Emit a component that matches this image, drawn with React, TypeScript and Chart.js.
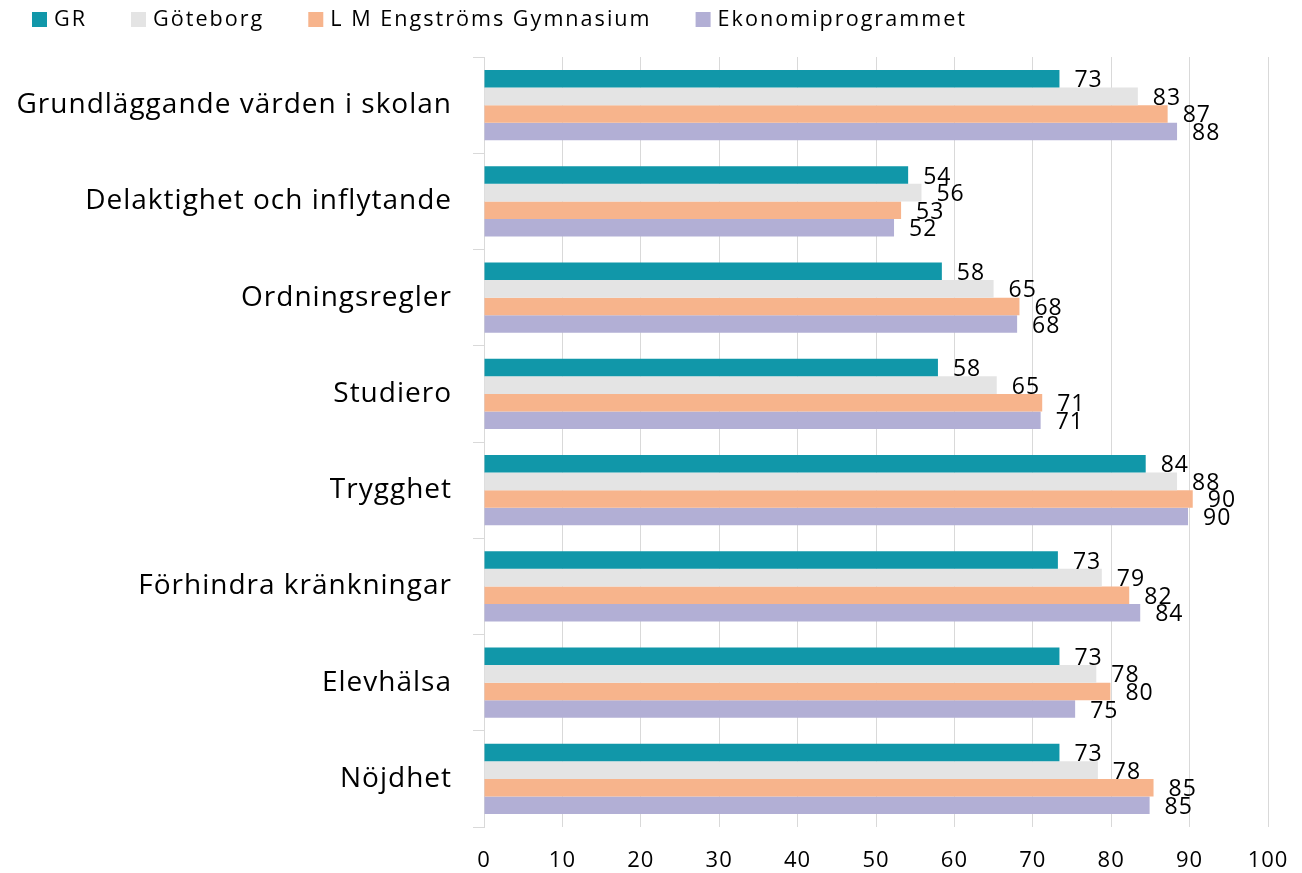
import React, { useEffect, useRef } from "react";
import { Chart, registerables } from "chart.js";

Chart.register(...registerables);

const categories = [
  "Grundläggande värden i skolan",
  "Delaktighet och inflytande",
  "Ordningsregler",
  "Studiero",
  "Trygghet",
  "Förhindra kränkningar",
  "Elevhälsa",
  "Nöjdhet",
];

const seriesNames = ["GR", "Göteborg", "L M Engströms Gymnasium", "Ekonomiprogrammet"];
const seriesColors = ["#1197a9", "#e4e4e4", "#f7b48c", "#b2afd5"];

const grValues = [73.4, 54.1, 58.4, 57.9, 84.4, 73.2, 73.4, 73.4];
const goteborgValues = [83.4, 55.8, 65.0, 65.4, 88.4, 78.8, 78.1, 78.3];
const lmValues = [87.2, 53.2, 68.3, 71.2, 90.4, 82.3, 79.9, 85.4];
const ekonomiValues = [88.4, 52.3, 68.0, 71.0, 89.8, 83.7, 75.4, 84.9];

const xMin = 0;
const xMax = 100;
const xStep = 10;

const FONT = '"Open Sans", "DejaVu Sans", sans-serif';

const spacingPlugin = {
  id: "spacing",
  beforeUpdate(chart: any) {
    chart.ctx.letterSpacing = "1px";
  },
  beforeDraw(chart: any) {
    chart.ctx.letterSpacing = "1px";
  },
};

const valueLabelPlugin = {
  id: "valueLabels",
  afterDatasetsDraw(chart: any) {
    const ctx = chart.ctx;
    ctx.save();
    ctx.font = `23px ${FONT}`;
    ctx.letterSpacing = "1px";
    ctx.fillStyle = "#000";
    ctx.textAlign = "left";
    ctx.textBaseline = "middle";
    chart.data.datasets.forEach((ds: any, di: number) => {
      const meta = chart.getDatasetMeta(di);
      meta.data.forEach((bar: any, i: number) => {
        const v = ds.data[i];
        ctx.fillText(String(Math.round(v)), bar.x + 15, bar.y + 2);
      });
    });
    ctx.restore();
  },
};

const legendPlugin = {
  id: "customLegend",
  afterDraw(chart: any) {
    const ctx = chart.ctx;
    ctx.save();
    ctx.font = `21.6px ${FONT}`;
    ctx.letterSpacing = "2px";
    ctx.textAlign = "left";
    ctx.textBaseline = "middle";
    let x = 32;
    chart.data.datasets.forEach((ds: any) => {
      ctx.fillStyle = ds.backgroundColor;
      ctx.fillRect(x, 12, 15, 15);
      ctx.fillStyle = "#000";
      ctx.fillText(ds.label, x + 22, 20);
      x += 22 + ctx.measureText(ds.label).width + 44;
    });
    ctx.restore();
  },
};

export default function App() {
  const canvasRef = useRef<HTMLCanvasElement | null>(null);

  useEffect(() => {
    if (!canvasRef.current) return;
    const allValues = [grValues, goteborgValues, lmValues, ekonomiValues];
    const chart = new Chart(canvasRef.current, {
      type: "bar",
      data: {
        labels: categories,
        datasets: allValues.map((vals, i) => ({
          label: seriesNames[i],
          data: vals,
          backgroundColor: seriesColors[i],
          borderWidth: 0,
          categoryPercentage: 0.73,
          barPercentage: 1.0,
        })),
      },
      options: {
        indexAxis: "y",
        responsive: false,
        animation: false,
        layout: { padding: { top: 57, right: 34, left: 0, bottom: 0 } },
        plugins: {
          legend: { display: false },
          tooltip: { enabled: false },
        },
        scales: {
          x: {
            min: xMin,
            max: xMax,
            ticks: {
              stepSize: xStep,
              color: "#000",
              padding: 21,
              font: { family: FONT, size: 22 },
            },
            grid: { color: "#d9d9d9", lineWidth: 1, drawTicks: false },
            border: { display: false },
            afterFit(scale: any) {
              scale.height = 46;
              scale.paddingRight = 0;
              scale.paddingLeft = 0;
            },
          },
          y: {
            ticks: {
              color: "#000",
              padding: 21,
              font: { family: FONT, size: 28 },
            },
            grid: {
              drawOnChartArea: false,
              drawTicks: true,
              tickLength: 11,
              color: "#d9d9d9",
              offset: true,
            },
            border: { display: true, color: "#d9d9d9" },
            afterFit(scale: any) {
              scale.width = 484;
              scale.paddingTop = 0;
              scale.paddingBottom = 0;
            },
          },
        },
      },
      plugins: [spacingPlugin, valueLabelPlugin, legendPlugin],
    } as any);
    return () => chart.destroy();
  }, []);

  return (
    <div style={{ position: "absolute", left: 0, top: 0, width: 1302, height: 873, background: "#fff" }}>
      <canvas ref={canvasRef} width={1302} height={873} />
    </div>
  );
}
